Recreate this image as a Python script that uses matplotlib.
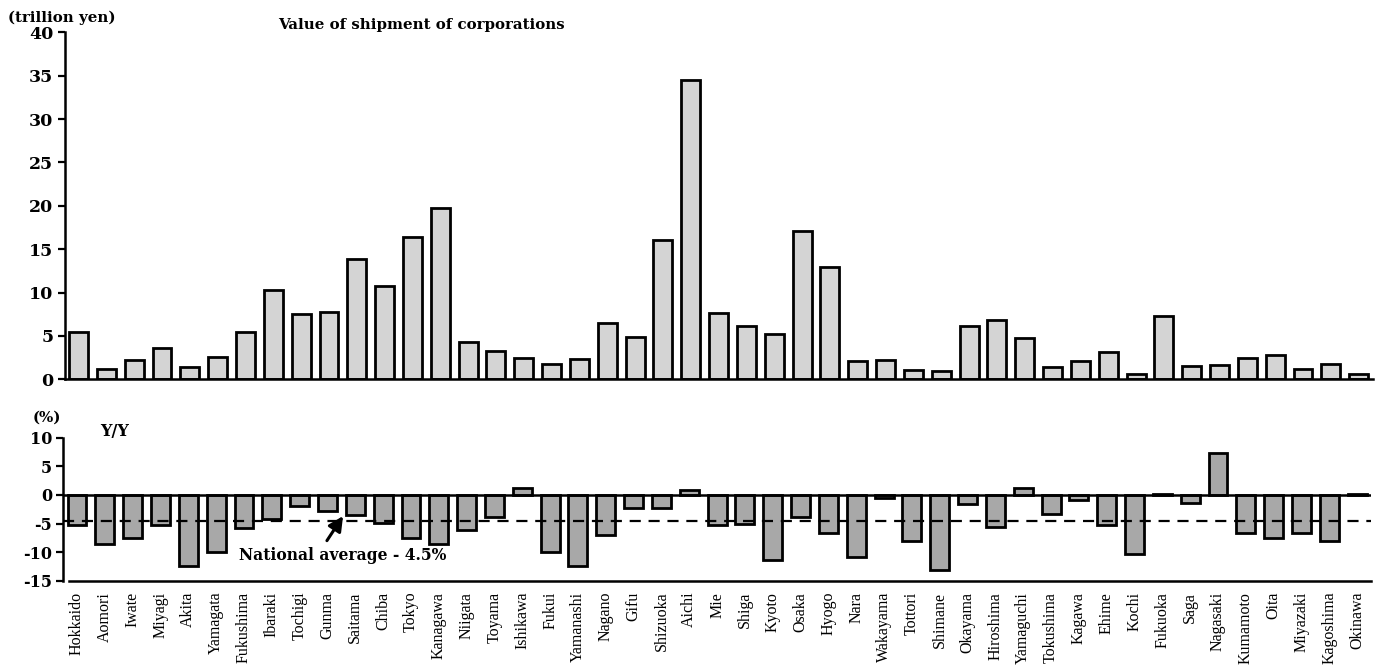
import matplotlib
matplotlib.use("Agg")
import matplotlib.pyplot as plt
from matplotlib.font_manager import FontProperties
import numpy as np

prefectures = [
    "Hokkaido", "Aomori", "Iwate", "Miyagi", "Akita", "Yamagata", "Fukushima",
    "Ibaraki", "Tochigi", "Gunma", "Saitama", "Chiba", "Tokyo", "Kanagawa",
    "Niigata", "Toyama", "Ishikawa", "Fukui", "Yamanashi", "Nagano", "Gifu",
    "Shizuoka", "Aichi", "Mie", "Shiga", "Kyoto", "Osaka", "Hyogo", "Nara",
    "Wakayama", "Tottori", "Shimane", "Okayama", "Hiroshima", "Yamaguchi",
    "Tokushima", "Kagawa", "Ehime", "Kochi", "Fukuoka", "Saga", "Nagasaki",
    "Kumamoto", "Oita", "Miyazaki", "Kagoshima", "Okinawa",
]

# Value of shipment (trillion yen)
shipment = [
    5.4, 1.2, 2.2, 3.6, 1.4, 2.6, 5.4,
    10.3, 7.5, 7.8, 13.9, 10.8, 16.4, 19.8,
    4.3, 3.3, 2.5, 1.8, 2.3, 6.5, 4.9,
    16.1, 34.5, 7.6, 6.1, 5.2, 17.1, 13.0, 2.1,
    2.2, 1.1, 1.0, 6.2, 6.8, 4.8,
    1.4, 2.1, 3.2, 0.6, 7.3, 1.5, 1.6,
    2.5, 2.8, 1.2, 1.8, 0.6,
]

# Year-on-year change (%)
yoy = [
    -5.3, -8.6, -7.6, -5.2, -12.4, -9.9, -5.7,
    -4.2, -1.9, -2.9, -3.6, -4.9, -7.6, -8.5,
    -6.2, -3.8, 1.2, -9.9, -12.5, -7.0, -2.3,
    -2.3, 0.8, -5.2, -5.0, -11.3, -3.8, -6.6, -10.8,
    -0.5, -8.0, -13.1, -1.6, -5.6, 1.2,
    -3.4, -0.9, -5.2, -10.3, 0.2, -1.5, 7.4,
    -6.7, -7.6, -6.6, -8.0, 0.2,
]

national_average = -4.5

plt.rcParams["axes.unicode_minus"] = False
serif_bold = dict(family="DejaVu Serif", weight="bold")

W, H = 1395, 665
fig = plt.figure(figsize=(W / 100, H / 100), dpi=100)

x = np.arange(len(prefectures))
bar_w = 0.68
xlim = (-0.5, len(prefectures) - 0.5)
spine_w = 1.8

# ---- upper panel: shipment value ----
ax1 = fig.add_axes([64.6 / W, 1 - 379.3 / H, 1308 / W, 347 / H])
ax1.bar(x, shipment, width=bar_w, color="#d4d4d4", edgecolor="black",
        linewidth=2.0, zorder=2)
ax1.set_xlim(*xlim)
ax1.set_ylim(0, 40)
ax1.set_yticks(np.arange(0, 41, 5))
ax1.set_xticks([])
for s in ("top", "right"):
    ax1.spines[s].set_visible(False)
ax1.spines["left"].set_linewidth(spine_w)
ax1.spines["bottom"].set_linewidth(spine_w)
ax1.tick_params(axis="y", direction="out", length=5, width=1.6, pad=3)
for lab in ax1.get_yticklabels():
    lab.set_fontproperties(FontProperties(**serif_bold, size=12.5))
fig.text(8 / W, 1 - 18 / H, "(trillion yen)", ha="left", va="center",
         fontsize=10.8, **serif_bold)
fig.text(278 / W, 1 - 25 / H, "Value of shipment of corporations", ha="left",
         va="center", fontsize=10.8, **serif_bold)

# ---- lower panel: year-on-year change ----
ax2 = fig.add_axes([63.1 / W, 1 - 580.7 / H, 1308 / W, 143 / H])
ax2.bar(x, yoy, width=bar_w, color="#a8a8a8", edgecolor="black",
        linewidth=2.0, zorder=2)
ax2.axhline(0, color="black", linewidth=spine_w, zorder=3)
ax2.axhline(national_average, color="black", linewidth=1.6,
            linestyle=(0, (5, 3.5)), zorder=4)
ax2.set_xlim(*xlim)
ax2.set_ylim(-15, 10)
ax2.set_yticks(np.arange(-15, 11, 5))
ax2.set_xticks(x)
ax2.set_xticklabels(prefectures, rotation=90, fontsize=11.5,
                    family="Liberation Serif")
ax2.tick_params(axis="x", length=0, pad=8)
ax2.tick_params(axis="y", direction="out", length=5, width=1.6, pad=3)
for lab in ax2.get_yticklabels():
    lab.set_fontproperties(FontProperties(**serif_bold, size=11.5))
for s in ("top", "right"):
    ax2.spines[s].set_visible(False)
ax2.spines["left"].set_linewidth(spine_w)
ax2.spines["bottom"].set_linewidth(spine_w)
ax2.spines["bottom"].set_bounds(-0.28, xlim[1])

fig.text(33 / W, 1 - 418 / H, "(%)", ha="left", va="center", fontsize=10.8,
         **serif_bold)
fig.text(100 / W, 1 - 432 / H, "Y/Y", ha="left", va="center", fontsize=11.5,
         **serif_bold)
ax2.annotate("", xy=(9.56, -3.7), xytext=(8.98, -8.0),
             arrowprops=dict(arrowstyle="-|>", color="black", lw=2.2,
                             mutation_scale=22, shrinkA=0, shrinkB=0),
             zorder=5)
ax2.text(9.54, -10.6, f"National average - {abs(national_average)}%",
         ha="center", va="center", fontsize=11.2, zorder=5, **serif_bold)

fig.savefig("out.png", dpi=100)
